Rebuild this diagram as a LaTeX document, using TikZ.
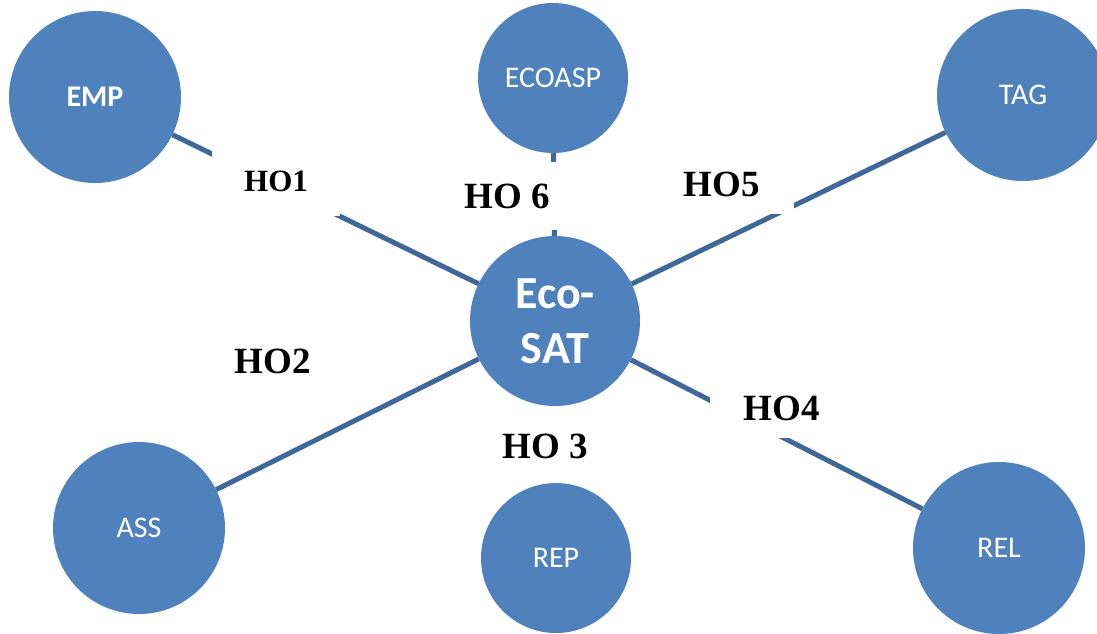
\documentclass[tikz,border=0pt]{standalone}
\usepackage{fontspec}
\setmainfont{Liberation Serif}
\newfontfamily\calibri{Carlito}
\usepackage{xcolor}
\usepackage{tikz}
\definecolor{nodeblue}{HTML}{4F81BD}
\definecolor{lineblue}{HTML}{3F6797}

\begin{document}
\begin{tikzpicture}[x=1pt, y=-1pt,
bignode/.style={circle, fill=nodeblue, text=white, inner sep=0pt, minimum size=172pt, font=\calibri\fontsize{30}{36}\selectfont},
smallnode/.style={bignode, minimum size=150pt},
hubnode/.style={bignode, minimum size=170pt, align=center, font=\calibri\bfseries\fontsize{46}{55}\selectfont},
linklabel/.style={rectangle, fill=white, inner sep=0pt, font=\bfseries\fontsize{37}{42}\selectfont},
link/.style={lineblue, line width=5pt},
]
\useasboundingbox (0,0) rectangle (1097,633);
%Nodes
\node[hubnode]   (ecosat) at (555,321) {Eco-\\SAT};
\node[bignode]   (emp)    at (95,97)   {\bfseries EMP};
\node[smallnode] (ecoasp) at (553,78)  {ECOASP};
\node[bignode]   (tag)    at (1023,95) {TAG};
\node[bignode]   (ass)    at (139,528) {ASS};
\node[smallnode] (rep)    at (556,558) {REP};
\node[bignode]   (rel)    at (999,548) {REL};
%Lines
\draw[link] (emp) -- (ecosat);
\draw[link] (ecoasp) -- (ecosat);
\draw[link] (tag) -- (ecosat);
\draw[link] (ass) -- (ecosat);
\draw[link] (rel) -- (ecosat);
%Labels
\node[linklabel, minimum width=128pt, minimum height=70pt, font=\bfseries\fontsize{31}{36}\selectfont] (ho1) at (276,181) {HO1};
\node[linklabel, minimum width=110pt, minimum height=68pt] (ho6) at (507,196) {HO 6};
\node[linklabel, minimum width=144pt, minimum height=60pt] (ho5) at (722,184) {HO5};
\node[linklabel, minimum width=144pt, minimum height=60pt] (ho4) at (782,408) {HO4};
\node[linklabel] (ho2) at (273,361) {HO2};
\node[linklabel] (ho3) at (545,446) {HO 3};
\end{tikzpicture}
\end{document}
